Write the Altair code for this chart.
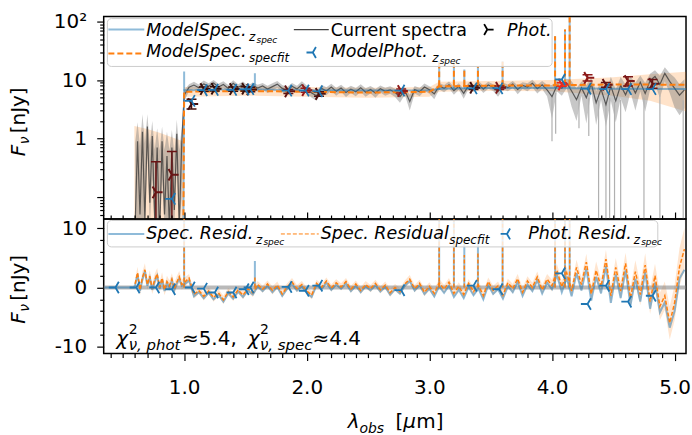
import altair as alt
import pandas as pd

FONT = "DejaVu Sans"

# ---------------- observed spectrum (wavelength in micron, flux in nJy)
spec_wl = [
    0.60, 0.62, 0.64, 0.66, 0.68, 0.70, 0.72, 0.74, 0.76, 0.78,
    0.80, 0.82, 0.84, 0.86, 0.88, 0.90, 0.92, 0.94, 0.96, 0.98,
    1.00, 1.04, 1.08, 1.12, 1.16, 1.20, 1.24, 1.28, 1.32, 1.36,
    1.40, 1.44, 1.48, 1.52, 1.56, 1.60, 1.64, 1.68, 1.72, 1.76,
    1.80, 1.84, 1.88, 1.92, 1.96, 2.00, 2.04, 2.08, 2.12, 2.16,
    2.20, 2.24, 2.28, 2.32, 2.36, 2.40, 2.44, 2.48, 2.52, 2.56,
    2.60, 2.64, 2.68, 2.72, 2.76, 2.80, 2.84, 2.88, 2.92, 2.96,
    3.00, 3.04, 3.08, 3.12, 3.16, 3.20, 3.24, 3.28, 3.32, 3.36,
    3.40, 3.44, 3.48, 3.52, 3.56, 3.60, 3.64, 3.68, 3.72, 3.76,
    3.80, 3.84, 3.88, 3.92, 3.96, 4.00, 4.04, 4.08, 4.12, 4.16,
    4.20, 4.24, 4.28, 4.32, 4.36, 4.40, 4.44, 4.48, 4.52, 4.56,
    4.60, 4.64, 4.68, 4.72, 4.76, 4.80, 4.84, 4.88, 4.92, 4.96,
    5.00, 5.04, 5.08,
]
obs_flux = [
    0.03, 0.9, 0.05, 1.3, 0.04, 1.6, 0.08, 1.1, 0.04, 0.7,
    0.02, 0.9, 0.05, 0.5, 0.03, 0.7, 0.06, 1.2, 0.03, 0.8,
    5.5, 7.5, 8.2, 7.4, 8.6, 7.8, 8.9, 7.6, 8.4, 7.2,
    8.8, 7.5, 8.3, 7.1, 8.0, 7.3, 7.9, 7.0, 7.7, 8.5,
    7.2, 6.6, 7.8, 7.0, 8.4, 7.1, 6.0, 5.4, 7.2, 6.5,
    7.6, 6.4, 7.3, 6.1, 7.0, 6.3, 7.4, 6.2, 6.9, 6.0,
    7.1, 6.4, 6.8, 6.1, 5.2, 6.6, 4.3, 6.9, 6.3, 7.6,
    6.8, 5.8, 7.9, 7.2, 8.3, 6.6, 7.8, 5.9, 8.1, 7.3,
    8.6, 7.0, 8.2, 7.5, 6.4, 8.0, 7.4, 8.5, 6.9, 8.1,
    7.6, 8.8, 7.1, 8.3, 6.8, 5.2, 8.0, 7.2, 8.9, 6.5,
    4.6, 7.4, 5.0, 8.6, 4.1, 7.0, 3.8, 7.9, 4.4, 8.1,
    5.6, 8.8, 6.0, 9.2, 5.9, 9.8, 11.5, 8.4, 13.0, 9.5,
    7.2, 5.5, 6.8,
]
obs_err = [
    0.8, 1.0, 0.7, 1.3, 0.8, 1.0, 0.7, 0.9, 0.6, 0.8,
    0.6, 0.7, 0.6, 0.8, 0.6, 0.7, 0.5, 0.9, 0.6, 0.7,
    1.2, 1.0, 1.1, 1.0, 1.2, 1.0, 1.1, 1.0, 1.1, 1.0,
    1.1, 1.0, 1.1, 1.0, 1.1, 1.0, 1.0, 1.0, 1.1, 1.1,
    1.0, 1.0, 1.1, 1.0, 1.1, 1.0, 1.0, 1.0, 1.1, 1.0,
    1.0, 1.0, 1.0, 1.0, 1.0, 1.0, 1.1, 1.0, 1.0, 1.0,
    1.0, 1.0, 1.0, 1.0, 1.1, 1.0, 1.3, 1.0, 1.0, 1.1,
    1.0, 1.1, 1.0, 1.0, 1.1, 1.0, 1.0, 1.1, 1.0, 1.0,
    1.1, 1.0, 1.1, 1.0, 1.2, 1.1, 1.0, 1.1, 1.2, 1.1,
    1.2, 1.3, 1.2, 1.3, 1.5, 3.0, 1.6, 1.8, 1.7, 3.0,
    2.6, 2.0, 3.2, 2.2, 2.4, 2.4, 2.2, 3.5, 2.5, 3.2,
    2.8, 2.6, 3.0, 2.8, 3.0, 3.0, 3.2, 3.4, 3.6, 3.5,
    3.8, 3.0, 3.5,
]
# narrow pixels of the spectrum whose error bar reaches far down
dip_wl = [4.00, 4.03, 4.22, 4.30, 4.38, 4.44, 4.47, 4.51, 4.56, 4.75, 4.88, 5.07]
dip_lo = [0.9, 1.2, 1.5, 1.1, 0.01, 0.01, 0.01, 0.01, 0.01, 0.01, 0.01, 0.01]
dip_hi = [5.5, 6.0, 5.5, 5.0, 4.5, 4.0, 5.0, 4.2, 4.6, 5.0, 5.5, 4.5]

# ---------------- model spectra (continuum) and emission lines
mz_wl = [0.99, 1.00, 1.20, 1.50, 2.00, 2.50, 3.00, 3.10, 3.50, 4.00, 4.50, 5.093]
mz_flux = [0.001, 6.6, 6.9, 6.9, 6.7, 6.6, 6.7, 7.1, 7.3, 7.3, 7.1, 7.0]
ms_wl = [0.99, 1.00, 1.50, 2.00, 2.50, 3.00, 3.08, 3.50, 4.00, 4.50, 5.093]
ms_flux = [0.001, 6.3, 6.5, 6.3, 6.1, 6.3, 7.8, 8.0, 8.1, 8.4, 8.3]
band_wl = [0.594, 0.70, 0.80, 0.90, 0.99, 1.00, 1.50, 2.00, 2.50, 3.00, 3.08, 3.50, 4.00, 4.50, 4.80, 5.093]
band_lo = [0.001, 0.001, 0.001, 0.001, 0.001, 5.2, 5.4, 5.2, 5.0, 5.2, 6.3, 6.5, 6.4, 5.4, 4.4, 2.9]
band_hi = [1.64, 1.45, 1.25, 1.05, 0.90, 7.6, 7.8, 7.6, 7.4, 7.6, 9.3, 9.6, 10.0, 11.2, 12.5, 13.8]

line_wl = [1.000, 1.577, 3.080, 3.200, 3.285, 3.396, 3.597, 4.025, 4.106, 4.144]
line_base_z = [6.6, 6.9, 6.8, 7.1, 7.1, 7.2, 7.3, 7.3, 7.3, 7.3]
line_peak_z = [14.0, 13.0, 21.0, 19.8, 15.2, 17.3, 21.0, 56.0, 73.0, 120.0]
line_base_s = [6.3, 6.5, 7.8, 8.0, 8.0, 8.0, 8.0, 8.1, 8.1, 8.1]
line_peak_s = [6.3, 7.5, 21.0, 19.8, 15.2, 17.3, 21.0, 56.0, 73.0, 120.0]
res_line_base = [0.0, 0.0, 0.0, 0.0, 0.0, 0.0, 0.0, 0.0, 0.0, 0.0]
res_line_peak_z = [11.6, 4.5, 11.6, 11.6, 8.1, 8.5, 11.6, 11.6, 11.6, 11.6]
res_line_peak_s = [11.6, 2.0, 11.6, 11.6, 5.5, 6.0, 11.6, 11.6, 11.6, 11.6]

# ---------------- photometry
phot_wl = [0.77, 0.90, 1.06, 1.16, 1.25, 1.40, 1.50, 1.54, 1.85, 1.99, 2.10, 2.77, 3.36, 3.57, 4.08, 4.29, 4.44, 4.62, 4.82]
phot_flux = [0.12, 0.24, 3.9, 7.0, 7.1, 7.0, 7.1, 6.9, 6.4, 6.7, 5.8, 6.5, 7.4, 7.4, 8.4, 10.9, 8.3, 9.6, 8.6]
phot_lo = [0.01, 0.01, 3.2, 6.4, 6.5, 6.4, 6.5, 6.3, 5.9, 6.2, 5.3, 6.0, 6.9, 6.9, 7.8, 9.6, 7.5, 7.9, 7.2]
phot_hi = [0.40, 0.60, 4.7, 7.6, 7.7, 7.6, 7.7, 7.5, 6.9, 7.2, 6.3, 7.0, 7.9, 7.9, 9.0, 12.3, 9.1, 11.4, 10.2]
phot_tone = [0.35, 0.35, 0.15, 0.1, 0.05, 0.1, 0.1, 0.15, 0.3, 0.6, 0.2, 0.55, 0.15, 0.45, 1.0, 0.55, 0.35, 0.45, 0.35]

mphot_wl = [0.90, 1.06, 1.16, 1.25, 1.40, 1.50, 1.54, 1.85, 1.99, 2.10, 2.77, 3.36, 3.57, 4.08, 4.29, 4.44, 4.62, 4.82]
mphot_flux = [0.093, 4.4, 6.7, 6.8, 6.8, 6.9, 7.0, 6.6, 6.6, 6.4, 6.6, 7.2, 7.2, 10.2, 7.1, 7.0, 7.0, 7.0]

# ---------------- residuals
res_z_wl = [0.35, 0.59] + spec_wl
res_z = [0.0, 0.0,
    0.4, 2.2, -0.6, 1.4, 2.8, 0.3, 1.6, -0.4, 1.0, 2.0,
    -0.2, 1.4, -0.6, 0.8, 0.0, 1.2, -0.4, 0.6, 1.5, 0.3,
    0.5, 1.2, -1.5, -0.8, -1.8, -0.9, -2.0, -1.2, -2.4, -1.0,
    -1.9, -0.7, -1.6, -0.5, -1.2, 0.2, -0.6, 0.3, -0.8, 0.1,
    -1.4, -0.2, 0.6, -0.5, 0.2, -0.9, -1.6, 0.4, -0.3, 0.8,
    -0.4, 0.5, -0.2, 0.7, -0.6, 0.3, -0.8, 0.2, -0.5, 0.4,
    -0.7, 0.1, -1.2, -0.3, -1.0, 0.3, 1.1, -0.5, 0.4, -1.1,
    -0.2, -1.5, 0.2, -0.9, 0.3, -1.6, -0.4, -1.8, 0.1, -1.3,
    -0.2, -2.0, 0.4, -1.1, -0.3, -1.9, 0.2, -0.8, 0.9, -1.4,
    0.5, -0.6, 1.2, -1.0, 0.8, -0.3, 2.1, -0.8, 1.6, -1.5,
    2.4, -0.5, 3.2, -2.2, 1.8, -1.0, 3.6, -2.6, 2.2, -1.8,
    2.9, -3.0, 1.5, -2.4, 2.6, -3.6, 0.8, -4.2, -2.5, -6.8,
    -4.0, 1.5, 3.0,
]
res_s = [
    0.6, 2.5, -0.4, 1.7, 3.0, 0.5, 1.9, -0.2, 1.3, 2.3,
    0.0, 1.6, -0.4, 1.0, 0.3, 1.4, -0.2, 0.9, 1.8, 0.5,
    0.8, 1.6, -1.2, -0.5, -1.5, -0.6, -1.7, -0.9, -2.1, -0.7,
    -1.6, -0.4, -1.3, -0.2, -0.9, 0.5, -0.3, 0.6, -0.5, 0.4,
    -1.1, 0.1, 0.9, -0.2, 0.5, -0.6, -1.3, 0.7, 0.0, 1.1,
    -0.1, 0.8, 0.1, 1.0, -0.3, 0.6, -0.5, 0.5, -0.2, 0.7,
    -0.4, 0.4, -0.9, 0.0, -0.7, 0.6, 1.4, -0.2, 0.7, -0.8,
    0.2, -1.0, 0.8, -0.3, 0.9, -1.0, 0.2, -1.2, 0.7, -0.7,
    0.4, -1.4, 1.0, -0.5, 0.3, -1.3, 0.8, -0.2, 1.5, -0.8,
    1.1, 0.0, 1.8, -0.4, 1.4, 0.3, 2.9, 0.1, 2.5, -0.6,
    3.4, 0.5, 4.3, -1.1, 2.9, 0.1, 4.8, -1.4, 3.4, -0.6,
    4.1, -1.8, 2.7, -1.2, 3.8, -2.4, 2.0, -3.2, -1.4, -6.0,
    -2.6, 3.5, 6.5,
]
res_s_err = [
    0.9, 1.0, 0.9, 1.0, 1.1, 0.9, 1.0, 0.9, 1.0, 1.0,
    0.9, 1.0, 0.9, 1.0, 0.9, 1.0, 0.9, 1.0, 1.0, 0.9,
    0.8, 0.7, 0.7, 0.6, 0.7, 0.6, 0.7, 0.6, 0.7, 0.6,
    0.7, 0.6, 0.7, 0.6, 0.7, 0.6, 0.6, 0.6, 0.7, 0.6,
    0.6, 0.6, 0.7, 0.6, 0.6, 0.6, 0.7, 0.6, 0.6, 0.6,
    0.6, 0.6, 0.6, 0.6, 0.6, 0.6, 0.6, 0.6, 0.6, 0.6,
    0.6, 0.6, 0.7, 0.6, 0.6, 0.6, 0.7, 0.6, 0.6, 0.7,
    0.7, 0.7, 0.7, 0.7, 0.7, 0.7, 0.7, 0.7, 0.7, 0.7,
    0.7, 0.8, 0.7, 0.8, 0.7, 0.8, 0.7, 0.8, 0.8, 0.8,
    0.8, 0.8, 0.9, 0.8, 0.9, 1.0, 1.1, 1.0, 1.1, 1.0,
    1.3, 1.2, 1.4, 1.3, 1.5, 1.3, 1.6, 1.5, 1.6, 1.5,
    1.8, 1.7, 1.9, 1.8, 2.0, 2.1, 2.0, 2.3, 2.4, 2.8,
    3.0, 3.2, 3.6,
]
zero_level = [0.0]

rphot_wl = [0.44, 0.61] + phot_wl
rphot = [0.0, 0.0, 0.0, -0.3, 0.0, -0.2, -0.85, -0.85, -0.3, 0.0, 0.1, -0.55, 0.3, -0.45, 0.3, -0.3, 2.4, -2.8, 0.3, -2.4, -1.4]

# ---------------- tables
spec_df = pd.DataFrame({"wl": spec_wl, "f": obs_flux, "e": obs_err})
spec_df["lo"] = (spec_df["f"] - spec_df["e"]).clip(lower=0.03)
spec_df["hi"] = spec_df["f"] + spec_df["e"]
dip_df = pd.DataFrame({"wl": dip_wl, "lo": dip_lo, "hi": dip_hi})
mz_df = pd.DataFrame({"wl": mz_wl, "f": mz_flux})
ms_df = pd.DataFrame({"wl": ms_wl, "f": ms_flux})
band_df = pd.DataFrame({"wl": band_wl, "lo": band_lo, "hi": band_hi})
lines_df = pd.DataFrame({"wl": line_wl, "bz": line_base_z, "pz": line_peak_z,
                         "bs": line_base_s, "ps": line_peak_s, "b0": res_line_base,
                         "rz": res_line_peak_z, "rs": res_line_peak_s})
phot_df = pd.DataFrame({"wl": phot_wl, "f": phot_flux, "lo": phot_lo, "hi": phot_hi, "tone": phot_tone})
mphot_df = pd.DataFrame({"wl": mphot_wl, "f": mphot_flux})
rz_df = pd.DataFrame({"wl": res_z_wl, "r": res_z})
rs_df = pd.DataFrame({"wl": spec_wl, "r": res_s, "e": res_s_err})
rs_df["lo"] = rs_df["r"] - rs_df["e"]
rs_df["hi"] = rs_df["r"] + rs_df["e"]
rphot_df = pd.DataFrame({"wl": rphot_wl, "r": rphot})
zero_df = pd.DataFrame({"r": zero_level})
one = pd.DataFrame({"k": [0]})

# ---------------- styles
BLUE = "#1f77b4"
ORANGE = "#ff7f0e"
TRI_R = "M0,0L1,0M0,0L-0.5,-0.866M0,0L-0.5,0.866"
TRI_L = "M0,0L-1,0M0,0L0.5,-0.866M0,0L0.5,0.866"
CAP = "M-1,0L1,0"

W, H1, H2 = 584, 203, 135
xs = alt.Scale(domain=[0.344, 5.093], nice=False, zero=False)
ys1 = alt.Scale(type="log", domain=[0.042, 121.6], nice=False)
ys2 = alt.Scale(domain=[-11.2, 11.6], nice=False, zero=False)

xt = [round(0.4 + 0.1 * i, 1) for i in range(47)]
ylog_t = [0.05, 0.06, 0.07, 0.08, 0.09, 0.1, 0.2, 0.3, 0.4, 0.5, 0.6, 0.7, 0.8, 0.9,
          1.0, 2.0, 3.0, 4.0, 5.0, 6.0, 7.0, 8.0, 9.0, 10.0, 20.0, 30.0, 40.0, 50.0,
          60.0, 70.0, 80.0, 90.0, 100.0]
ylin_t = [-10, -8, -6, -4, -2, 0, 2, 4, 6, 8, 10]

x_major = "abs(datum.value - round(datum.value)) < 0.001"
tick_x = {"condition": {"test": x_major, "value": 7}, "value": 4}
tick_y1 = {"condition": {"test": "datum.value == 0.1 || datum.value == 1 || datum.value == 10 || datum.value == 100", "value": 7}, "value": 4}
tick_y2 = {"condition": {"test": "datum.value % 10 == 0", "value": 7}, "value": 4}

common_axis = dict(labelFont=FONT, labelFontSize=20, labelColor="black", tickColor="black",
                   tickWidth=1.2, domain=False, grid=False, title=None, labelOverlap=False,
                   labelFlush=False)

y1_axis = alt.Axis(orient="left", values=ylog_t, tickSize=tick_y1, labelPadding=10,
                   labelExpr="datum.value == 100 ? '10\u00b2' : datum.value == 10 ? '10' : datum.value == 1 ? '1' : ''",
                   **common_axis)
y2_axis = alt.Axis(orient="left", values=ylin_t, tickSize=tick_y2, labelPadding=10,
                   labelExpr="datum.value == 10 ? '10' : datum.value == 0 ? '0' : datum.value == -10 ? '-10' : ''",
                   **common_axis)
xb_axis = alt.Axis(orient="bottom", values=xt, tickSize=tick_x, labelPadding=17,
                   labelExpr=x_major + " && datum.value >= 1 ? format(datum.value, '.1f') : ''",
                   **common_axis)
xt_axis = alt.Axis(orient="top", values=xt, tickSize=tick_x, labels=False, tickColor="black",
                   tickWidth=1.2, domain=False, grid=False, title=None)


def X(field="wl", axis=None):
    return alt.X(f"{field}:Q", scale=xs, axis=axis)


def txt(s, x, y, size=17.5, style="normal", angle=None, baseline="middle", align="left"):
    kw = dict(text=s, font=FONT, fontSize=size, fontStyle=style, align=align,
              baseline=baseline, color="black")
    if angle is not None:
        kw["angle"] = angle
    return alt.Chart(one).mark_text(**kw).encode(x=alt.value(x), y=alt.value(y))


def hline(x1, x2, y, color, width, dash=None, opacity=1.0):
    kw = dict(color=color, strokeWidth=width, opacity=opacity, strokeCap="butt")
    if dash:
        kw["strokeDash"] = dash
    return alt.Chart(one).mark_rule(**kw).encode(x=alt.value(x1), x2=alt.value(x2), y=alt.value(y))


def sym(shape, x, y, color, size=180, width=1.8):
    return alt.Chart(one).mark_point(shape=shape, size=size, filled=False, strokeWidth=width,
                                     color=color, opacity=1).encode(x=alt.value(x), y=alt.value(y))


def box(x1, x2, y1, y2):
    return alt.Chart(one).mark_rect(fill="white", fillOpacity=0.8, stroke="#cccccc", strokeWidth=1,
                                    cornerRadius=4).encode(x=alt.value(x1), x2=alt.value(x2),
                                                           y=alt.value(y1), y2=alt.value(y2))


tone_color = alt.Color("tone:Q", scale=alt.Scale(domain=[0, 1], range=["#2b0a02", "#e8281e"]), legend=None)

# ---------------- top panel
t_band = alt.Chart(band_df).mark_area(color=ORANGE, opacity=0.22, clip=True).encode(
    x=X(), y=alt.Y("lo:Q", scale=ys1, axis=None), y2="hi:Q")
t_gray = alt.Chart(spec_df).mark_area(color="#7a7a7a", opacity=0.42, clip=True).encode(
    x=X(), y=alt.Y("lo:Q", scale=ys1, axis=None), y2="hi:Q")
t_dips = alt.Chart(dip_df).mark_rule(color="#b0b0b0", strokeWidth=1.2, clip=True).encode(
    x=X(), y=alt.Y("lo:Q", scale=ys1, axis=None), y2="hi:Q")
t_obs = alt.Chart(spec_df).mark_line(color="#333333", opacity=0.75, strokeWidth=1.2, clip=True).encode(
    x=X(), y=alt.Y("f:Q", scale=ys1, axis=y1_axis))
t_mz = alt.Chart(mz_df).mark_line(color=BLUE, opacity=0.5, strokeWidth=2, clip=True).encode(
    x=X(), y=alt.Y("f:Q", scale=ys1, axis=None))
t_mz_lines = alt.Chart(lines_df).mark_rule(color=BLUE, opacity=0.5, strokeWidth=2, clip=True).encode(
    x=X(), y=alt.Y("bz:Q", scale=ys1, axis=None), y2="pz:Q")
t_ms = alt.Chart(ms_df).mark_line(color=ORANGE, strokeWidth=2, strokeDash=[6, 3], clip=True).encode(
    x=X(), y=alt.Y("f:Q", scale=ys1, axis=None))
t_ms_lines = alt.Chart(lines_df).mark_rule(color=ORANGE, strokeWidth=2, strokeDash=[6, 3], clip=True).encode(
    x=X(), y=alt.Y("bs:Q", scale=ys1, axis=None), y2="ps:Q")
t_err = alt.Chart(phot_df).mark_rule(strokeWidth=1.5, clip=True).encode(
    x=X(), y=alt.Y("lo:Q", scale=ys1, axis=None), y2="hi:Q", color=tone_color)
t_cap_lo = alt.Chart(phot_df).mark_point(shape=CAP, size=100, filled=False, strokeWidth=1.5, opacity=1, clip=True).encode(
    x=X(), y=alt.Y("lo:Q", scale=ys1, axis=None), color=tone_color)
t_cap_hi = alt.Chart(phot_df).mark_point(shape=CAP, size=100, filled=False, strokeWidth=1.5, opacity=1, clip=True).encode(
    x=X(), y=alt.Y("hi:Q", scale=ys1, axis=None), color=tone_color)
t_phot = alt.Chart(phot_df).mark_point(shape=TRI_R, size=180, filled=False, strokeWidth=2, opacity=1, clip=True).encode(
    x=X(), y=alt.Y("f:Q", scale=ys1, axis=None), color=tone_color)
t_mphot = alt.Chart(mphot_df).mark_point(shape=TRI_L, size=180, filled=False, strokeWidth=1.8, opacity=1,
                                         color=BLUE, clip=True).encode(
    x=X(), y=alt.Y("f:Q", scale=ys1, axis=None))

top_legend = [
    box(3.7, 449.7, 2, 50),
    hline(4.7, 40.7, 13, BLUE, 2, opacity=0.5),
    txt("ModelSpec.", 42.7, 14, style="italic"),
    txt("z", 145.7, 20.5, size=12, style="italic"),
    txt("spec", 153.2, 23, size=9, style="italic"),
    hline(190.7, 225.7, 13, "#404040", 1.2),
    txt("Current spectra", 227.7, 14),
    sym(TRI_R, 384.7, 13, "black", size=160),
    txt("Phot.", 404.4, 14, style="italic"),
    hline(4.7, 40.7, 37, ORANGE, 2, dash=[6, 3]),
    txt("ModelSpec.", 42.7, 36, style="italic"),
    txt("specfit", 145.7, 41.5, size=12, style="italic"),
    sym(TRI_L, 209.7, 36, BLUE, size=160),
    txt("ModelPhot.", 227.7, 36, style="italic"),
    txt("z", 329.4, 42, size=12, style="italic"),
    txt("spec", 336.9, 44.5, size=9, style="italic"),
]
top_title = [
    txt("F", -79.3, 140, size=20, style="italic", angle=270, baseline="alphabetic"),
    txt("\u03bd", -75.3, 128, size=14, style="italic", angle=270, baseline="alphabetic"),
    txt("[nJy]", -79.3, 117, size=20, angle=270, baseline="alphabetic"),
]

top = alt.layer(
    t_band, t_gray, t_dips, t_obs, t_mz, t_mz_lines, t_ms, t_ms_lines,
    t_err, t_cap_lo, t_cap_hi, t_phot, t_mphot, *top_legend, *top_title
).resolve_axis(x="independent", y="independent").properties(width=W, height=H1)

# ---------------- bottom panel
b_band = alt.Chart(rs_df).mark_area(color=ORANGE, opacity=0.2, clip=True).encode(
    x=X(), y=alt.Y("lo:Q", scale=ys2, axis=None), y2="hi:Q")
b_zero = alt.Chart(zero_df).mark_rule(color="#808080", opacity=0.55, strokeWidth=4).encode(
    y=alt.Y("r:Q", scale=ys2, axis=None))
b_rz = alt.Chart(rz_df).mark_line(color=BLUE, opacity=0.5, strokeWidth=2, clip=True).encode(
    x=X(axis=xt_axis), y=alt.Y("r:Q", scale=ys2, axis=y2_axis))
b_rz_lines = alt.Chart(lines_df).mark_rule(color=BLUE, opacity=0.5, strokeWidth=2, clip=True).encode(
    x=X(), y=alt.Y("b0:Q", scale=ys2, axis=None), y2="rz:Q")
b_rs = alt.Chart(rs_df).mark_line(color=ORANGE, strokeWidth=1.5, strokeDash=[4, 2], clip=True).encode(
    x=X(axis=xb_axis), y=alt.Y("r:Q", scale=ys2, axis=None))
b_rs_lines = alt.Chart(lines_df).mark_rule(color=ORANGE, strokeWidth=1.5, strokeDash=[4, 2], clip=True).encode(
    x=X(), y=alt.Y("b0:Q", scale=ys2, axis=None), y2="rs:Q")
b_phot = alt.Chart(rphot_df).mark_point(shape=TRI_L, size=180, filled=False, strokeWidth=1.8, opacity=1,
                                        color=BLUE, clip=True).encode(
    x=X(), y=alt.Y("r:Q", scale=ys2, axis=None))

bot_legend = [
    box(3.7, 555.7, 1.5, 28),
    hline(4.7, 40.7, 15, BLUE, 2, opacity=0.5),
    txt("Spec. Resid.", 42.7, 15, style="italic"),
    txt("z", 152.7, 21, size=12, style="italic"),
    txt("spec", 160.2, 23.5, size=9, style="italic"),
    hline(177.7, 215.7, 15, ORANGE, 1, dash=[4, 2]),
    txt("Spec. Residual", 217.7, 15, style="italic"),
    txt("specfit", 346.5, 21, size=12, style="italic"),
    sym(TRI_L, 404.4, 15, BLUE, size=160),
    txt("Phot. Resid.", 425.7, 15, style="italic"),
    txt("z", 531.5, 21, size=12, style="italic"),
    txt("spec", 539.0, 23.5, size=9, style="italic"),
]
chi_text = [
    txt("\u03c7", 12.7, 126.7, size=20, style="italic", baseline="alphabetic"),
    txt("2", 25.0, 115.0, size=14, baseline="alphabetic"),
    txt("\u03bd, phot", 25.0, 131.0, size=15, style="italic", baseline="alphabetic"),
    txt("\u22485.4,", 78.5, 126.7, size=20, baseline="alphabetic"),
    txt("\u03c7", 144.4, 126.7, size=20, style="italic", baseline="alphabetic"),
    txt("2", 156.7, 115.0, size=14, baseline="alphabetic"),
    txt("\u03bd, spec", 156.7, 131.0, size=15, style="italic", baseline="alphabetic"),
    txt("\u22484.4", 209.5, 126.7, size=20, baseline="alphabetic"),
]
bot_title = [
    txt("F", -79.3, 105, size=20, style="italic", angle=270, baseline="alphabetic"),
    txt("\u03bd", -75.3, 93, size=14, style="italic", angle=270, baseline="alphabetic"),
    txt("[nJy]", -79.3, 82, size=20, angle=270, baseline="alphabetic"),
    txt("\u03bb", 244.7, 210.0, size=20, style="italic", baseline="alphabetic"),
    txt("obs", 256.5, 214.5, size=14, style="italic", baseline="alphabetic"),
    txt("[", 292.7, 210.0, size=20, baseline="alphabetic"),
    txt("\u03bc", 300.5, 210.0, size=20, style="italic", baseline="alphabetic"),
    txt("m]", 313.5, 210.0, size=20, baseline="alphabetic"),
]

bottom = alt.layer(
    b_band, b_zero, b_rz, b_rz_lines, b_rs, b_rs_lines, b_phot,
    *bot_legend, *chi_text, *bot_title
).resolve_axis(x="independent", y="independent").properties(width=W, height=H2)

chart = alt.vconcat(top, bottom, spacing=0, bounds="flush").properties(
    padding={"left": 7, "top": 10, "right": 0, "bottom": 0}
).configure_view(stroke="black", strokeWidth=1.5)

chart.save("out.html", embed_options={"renderer": "svg", "actions": False})
